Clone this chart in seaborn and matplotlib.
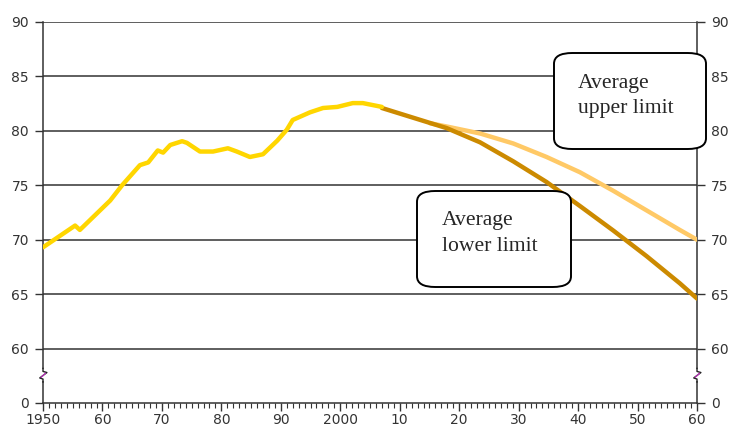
import numpy as np
import pandas as pd
import seaborn as sns
import matplotlib.pyplot as plt
from matplotlib.patches import FancyBboxPatch
import matplotlib.transforms as mtransforms

# observed life expectancy
hist_years = [1950, 1955.4, 1956.2, 1961.3, 1963.3, 1966.3, 1967.7, 1969.3, 1970.2, 1971.4,
              1973.4, 1974.2, 1976.4, 1978.6, 1981.1, 1982.6, 1984.8, 1987, 1989.4, 1991,
              1992, 1994.9, 1997.1, 1999.5, 2002.1, 2003.8, 2007]
hist_vals = [69.3, 71.3, 70.9, 73.6, 75.0, 76.85, 77.1, 78.2, 78.0, 78.7,
             79.05, 78.9, 78.1, 78.1, 78.4, 78.1, 77.6, 77.85, 79.1, 80.1,
             81.0, 81.7, 82.1, 82.2, 82.55, 82.55, 82.2]

# projections
low_years = [2007, 2012.3, 2017.9, 2023.5, 2029.1, 2034.7, 2040.3, 2045.9, 2051.5, 2057.1, 2060]
low_vals = [82.1, 81.2, 80.25, 78.95, 77.2, 75.3, 73.1, 70.85, 68.5, 66.0, 64.6]
up_years = [2015.1, 2017.9, 2023.5, 2029.1, 2034.7, 2040.3, 2045.9, 2051.5, 2057.1, 2060]
up_vals = [80.7, 80.4, 79.76, 78.84, 77.6, 76.2, 74.5, 72.7, 70.9, 70.0]

ytick_vals = [55, 60, 65, 70, 75, 80, 85, 90]
ytick_labels = ['0', '60', '65', '70', '75', '80', '85', '90']
xtick_vals = list(range(1950, 2061, 10))
xtick_labels = ['1950', '60', '70', '80', '90', '2000', '10', '20', '30', '40', '50', '60']


def main():
    sns.set_style('white')
    plt.rcParams['font.family'] = ['DejaVu Sans']

    df = pd.concat([
        pd.DataFrame({'year': hist_years, 'value': hist_vals, 'series': 'observed'}),
        pd.DataFrame({'year': low_years, 'value': low_vals, 'series': 'lower'}),
        pd.DataFrame({'year': up_years, 'value': up_vals, 'series': 'upper'}),
    ])
    palette = {'observed': '#FFD600', 'lower': '#CC8A00', 'upper': '#FFC966'}

    fig = plt.figure(figsize=(7.31, 4.28), dpi=100)
    ax = fig.add_axes([43 / 731, 1 - 403 / 428, 654 / 731, 381 / 428])

    # grid lines first
    for v in ytick_vals[1:]:
        ax.axhline(v, color='#333333', lw=1.1, zorder=1)

    sns.lineplot(data=df, x='year', y='value', hue='series', palette=palette,
                 hue_order=['upper', 'lower', 'observed'], lw=3.2, legend=False,
                 sort=False, ax=ax, zorder=3)
    for l in ax.lines:
        l.set_solid_joinstyle('round')
        l.set_solid_capstyle('round')

    ax.set_xlim(1950, 2060)
    ax.set_ylim(55, 90)
    ax.set_xlabel('')
    ax.set_ylabel('')
    ax.set_xticks(xtick_vals)
    ax.set_xticklabels(xtick_labels)
    ax.set_xticks(range(1950, 2061), minor=True)
    ax.set_yticks(ytick_vals)
    ax.set_yticklabels(ytick_labels)
    ax.tick_params(axis='x', which='major', direction='out', length=6, width=1,
                   color='#333333', labelsize=10, labelcolor='#333333', pad=1, bottom=True)
    ax.tick_params(axis='x', which='minor', direction='out', length=3.5, width=0.8,
                   color='#333333', bottom=True)
    ax.tick_params(axis='y', direction='out', length=6, width=1, color='#333333',
                   labelsize=10, labelcolor='#333333', left=True, right=True,
                   labelleft=True, labelright=True, pad=4)

    ax.spines['top'].set_visible(False)
    for s in ['left', 'right', 'bottom']:
        ax.spines[s].set_color('#333333')
        ax.spines[s].set_linewidth(1.1)

    # axis break marks
    for xa in [0, 1]:
        tr = mtransforms.blended_transform_factory(ax.transAxes, ax.transData)
        ax.add_patch(plt.Rectangle((xa - 0.006, 57.0), 0.012, 1.1, transform=tr,
                                   facecolor='white', edgecolor='none', clip_on=False, zorder=5))
        ax.plot([xa, xa, xa - 0.005, xa + 0.006, xa, xa],
                [56.9, 57.2, 57.3, 57.8, 57.9, 58.2], transform=tr, color='#222222',
                lw=1.0, clip_on=False, zorder=6)
        ax.plot([xa - 0.003, xa + 0.004], [57.35, 57.75], transform=tr, color='#CC33CC',
                lw=0.8, clip_on=False, zorder=7)

    # annotation boxes
    for (x0, y0, x1, y1, line1, line2, tx, by1, by2) in [
        (554, 53, 706, 149, 'Average', 'upper limit', 578, 88, 113),
        (417, 191, 571, 287, 'Average', 'lower limit', 442, 225, 251),
    ]:
        box = FancyBboxPatch((x0 / 731, 1 - y1 / 428), (x1 - x0) / 731, (y1 - y0) / 428,
                             boxstyle='round,pad=0,rounding_size=0.025',
                             transform=fig.transFigure, facecolor='white',
                             edgecolor='black', lw=1.4, zorder=10)
        fig.add_artist(box)
        for txt, by in [(line1, by1), (line2, by2)]:
            fig.text(tx / 731, 1 - by / 428, txt, ha='left', va='baseline', fontsize=15.6,
                     family='Liberation Serif', zorder=11)

    fig.savefig('out.png', dpi=100)


if __name__ == '__main__':
    main()
